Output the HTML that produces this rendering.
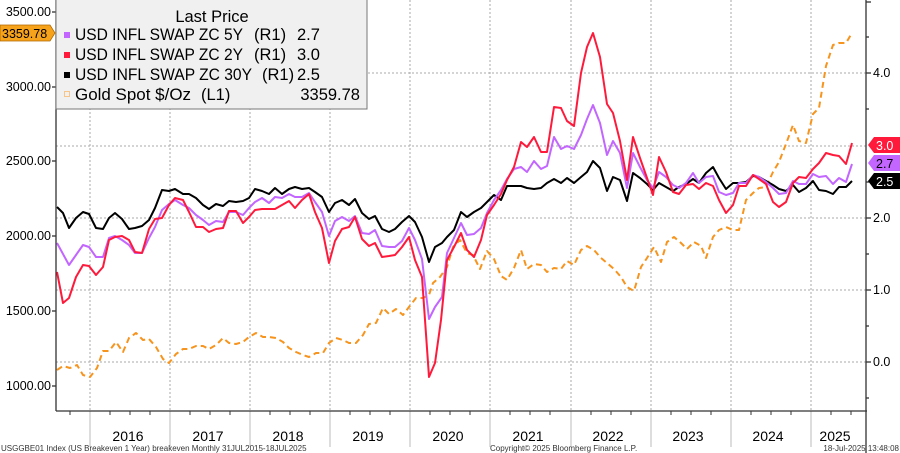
<!DOCTYPE html>
<html><head><meta charset="utf-8"><style>
body{margin:0;background:#fff;}
svg{display:block;font-family:"Liberation Sans",sans-serif;}
</style></head><body>
<svg width="900" height="453" viewBox="0 0 900 453" xmlns="http://www.w3.org/2000/svg">
<rect width="900" height="453" fill="#fff"/>
<g stroke="#aaa" stroke-dasharray="2,2" stroke-width="1">
<line x1="56" x2="866" y1="73" y2="73"/><line x1="56" x2="866" y1="146" y2="146"/><line x1="56" x2="866" y1="218" y2="218"/><line x1="56" x2="866" y1="290" y2="290"/><line x1="56" x2="866" y1="362" y2="362"/>
<line x1="90" x2="90" y1="0" y2="411"/><line x1="170" x2="170" y1="0" y2="411"/><line x1="250" x2="250" y1="0" y2="411"/><line x1="330" x2="330" y1="0" y2="411"/><line x1="410" x2="410" y1="0" y2="411"/><line x1="490" x2="490" y1="0" y2="411"/><line x1="571" x2="571" y1="0" y2="411"/><line x1="651" x2="651" y1="0" y2="411"/><line x1="731" x2="731" y1="0" y2="411"/><line x1="811" x2="811" y1="0" y2="411"/>
</g>
<g stroke="#bbb" stroke-width="1">
<line x1="90" x2="90" y1="411" y2="447"/><line x1="170" x2="170" y1="411" y2="447"/><line x1="250" x2="250" y1="411" y2="447"/><line x1="330" x2="330" y1="411" y2="447"/><line x1="410" x2="410" y1="411" y2="447"/><line x1="490" x2="490" y1="411" y2="447"/><line x1="571" x2="571" y1="411" y2="447"/><line x1="651" x2="651" y1="411" y2="447"/><line x1="731" x2="731" y1="411" y2="447"/><line x1="811" x2="811" y1="411" y2="447"/>
</g>
<g fill="none" stroke-width="2" stroke-linejoin="round">
<polyline stroke="#f7941d" stroke-dasharray="6,4" points="57,370 63,366 70,368 77,365 83,375 90,377 97,368 103,351 109,351 116,342 123,352 129,338 136,333 143,340 149,339 156,347 163,359 169,363 176,354 183,349 189,349 196,346 203,346 209,349 216,345 223,338 229,343 236,344 243,342 249,337 256,333 263,337 269,337 276,338 283,342 289,348 296,352 303,355 309,357 316,353 323,353 329,343 336,338 343,340 349,343 356,343 363,335 369,324 376,323 383,308 389,314 396,309 403,315 409,307 416,298 423,298 429,295 433,283 440,277 447,267 453,247 460,240 467,253 473,255 480,269 487,251 494,259 501,276 507,280 514,268 521,250 527,269 534,264 541,265 547,272 554,268 561,269 567,261 574,265 581,250 587,246 594,250 601,258 607,263 614,269 621,277 627,287 634,291 641,267 647,258 654,247 661,262 667,242 674,237 681,243 687,249 694,242 701,246 706,258 713,237 719,230 726,227 733,230 739,230 746,200 753,193 759,188 766,187 773,172 779,162 786,144 793,125 799,141 806,143 813,114 819,108 826,66 833,45 839,43 846,43 852,33"/>
<polyline stroke="#000" points="57,207 63,213 69,228 76,218 83,212 89,214 96,228 103,229 109,218 115,213 122,219 129,229 135,228 142,226 149,220 155,208 162,190 169,191 175,189 183,194 189,194 196,198 203,205 209,209 216,204 223,206 229,201 236,202 243,201 249,198 255,189 262,191 269,194 275,188 282,194 289,189 295,187 302,189 309,188 315,192 322,197 329,212 335,203 342,200 349,205 355,199 362,213 369,219 375,216 382,229 389,232 395,229 402,222 409,216 415,222 422,237 429,262 435,247 442,243 447,237 454,230 461,212 467,217 474,212 481,208 487,202 494,195 501,200 507,186 521,186 527,188 534,189 541,188 547,183 554,179 561,183 567,178 574,183 581,177 587,172 593,161 600,168 607,191 613,177 620,180 627,201 633,173 640,178 647,184 653,190 659,183 666,187 673,191 679,187 686,184 693,179 699,183 706,173 713,167 719,178 726,189 733,183 739,183 746,182 753,176 759,177 766,181 773,185 779,189 786,191 793,185 799,192 806,188 813,181 819,190 826,191 833,194 839,187 846,187 852,181"/>
<polyline stroke="#c266ff" points="57,243 63,254 69,265 76,255 83,245 89,247 96,257 103,257 109,238 115,236 122,240 129,245 135,253 142,253 149,238 155,227 162,210 169,204 175,200 183,205 189,208 196,215 203,220 209,225 216,221 223,222 229,212 236,212 243,215 249,208 255,202 262,198 269,203 275,197 282,198 289,194 295,197 302,197 309,193 315,202 322,212 329,236 335,221 342,217 349,221 355,216 362,233 369,234 375,230 382,246 389,247 395,247 402,241 409,228 415,240 422,259 429,319 435,307 442,297 447,253 454,238 461,223 467,235 474,234 481,228 487,213 494,200 501,190 507,179 514,169 521,167 527,172 534,161 541,169 547,166 554,137 561,149 567,146 574,149 581,135 587,119 593,105 600,123 607,155 613,141 620,153 627,188 633,153 640,167 647,180 653,188 659,172 666,177 673,185 679,188 686,183 693,173 699,183 706,177 713,176 719,192 726,195 733,193 739,183 746,183 753,175 759,177 766,182 773,188 779,194 786,193 793,181 799,184 806,184 813,174 819,177 826,176 833,184 839,178 846,182 852,164"/>
<polyline stroke="#ff1a3c" points="57,272 63,303 69,298 76,277 83,265 89,266 96,275 103,267 109,240 115,237 122,236 129,240 135,252 142,253 149,229 155,219 162,218 169,205 175,198 183,200 189,212 196,227 203,227 209,232 216,229 223,228 229,211 236,211 243,223 249,217 255,210 262,209 269,209 275,209 282,205 289,201 295,208 302,200 309,194 315,212 322,228 329,263 335,241 342,229 349,227 355,217 362,239 369,246 375,243 382,257 389,256 395,255 402,247 409,237 415,260 422,277 429,377 435,363 441,320 447,260 454,247 461,233 467,250 474,257 481,240 487,215 494,205 501,194 507,180 514,167 521,142 527,147 534,137 541,152 547,152 554,107 561,108 567,121 574,126 581,73 587,47 593,33 600,57 607,104 613,113 620,141 627,180 633,137 640,158 647,178 653,195 659,157 666,172 673,192 679,194 686,185 693,184 699,189 706,183 713,186 719,200 726,213 733,205 739,186 746,186 753,175 759,179 766,184 773,202 779,207 786,202 793,183 799,177 806,178 813,169 819,163 826,153 833,155 839,156 846,164 852,143"/>
</g>
<g stroke="#333" stroke-width="1.3">
<line x1="56" y1="0" x2="56" y2="411"/><line x1="56" y1="411" x2="867" y2="411"/><line x1="866" y1="0" x2="866" y2="453"/>
<line x1="52" x2="56" y1="12" y2="12"/><line x1="52" x2="56" y1="87" y2="87"/><line x1="52" x2="56" y1="161" y2="161"/><line x1="52" x2="56" y1="236" y2="236"/><line x1="52" x2="56" y1="311" y2="311"/><line x1="52" x2="56" y1="386" y2="386"/>
<line x1="866" x2="871" y1="73" y2="73"/><line x1="866" x2="871" y1="218" y2="218"/><line x1="866" x2="871" y1="290" y2="290"/><line x1="866" x2="871" y1="362" y2="362"/>
<line x1="866" x2="869" y1="37" y2="37"/><line x1="866" x2="869" y1="109" y2="109"/><line x1="866" x2="869" y1="182" y2="182"/><line x1="866" x2="869" y1="254" y2="254"/><line x1="866" x2="869" y1="326" y2="326"/><line x1="866" x2="869" y1="398" y2="398"/><line x1="866" x2="871" y1="2" y2="2"/>
</g>
<g stroke="#333" stroke-width="1">
<line x1="70" x2="70" y1="411" y2="415"/><line x1="110" x2="110" y1="411" y2="415"/><line x1="130" x2="130" y1="411" y2="415"/><line x1="150" x2="150" y1="411" y2="415"/><line x1="190" x2="190" y1="411" y2="415"/><line x1="210" x2="210" y1="411" y2="415"/><line x1="230" x2="230" y1="411" y2="415"/><line x1="270" x2="270" y1="411" y2="415"/><line x1="290" x2="290" y1="411" y2="415"/><line x1="310" x2="310" y1="411" y2="415"/><line x1="350" x2="350" y1="411" y2="415"/><line x1="370" x2="370" y1="411" y2="415"/><line x1="390" x2="390" y1="411" y2="415"/><line x1="430" x2="430" y1="411" y2="415"/><line x1="450" x2="450" y1="411" y2="415"/><line x1="470" x2="470" y1="411" y2="415"/><line x1="510" x2="510" y1="411" y2="415"/><line x1="530" x2="530" y1="411" y2="415"/><line x1="550" x2="550" y1="411" y2="415"/><line x1="591" x2="591" y1="411" y2="415"/><line x1="611" x2="611" y1="411" y2="415"/><line x1="631" x2="631" y1="411" y2="415"/><line x1="671" x2="671" y1="411" y2="415"/><line x1="691" x2="691" y1="411" y2="415"/><line x1="711" x2="711" y1="411" y2="415"/><line x1="751" x2="751" y1="411" y2="415"/><line x1="771" x2="771" y1="411" y2="415"/><line x1="791" x2="791" y1="411" y2="415"/><line x1="831" x2="831" y1="411" y2="415"/><line x1="851" x2="851" y1="411" y2="415"/>
</g>
<g font-size="12.5" fill="#000" text-anchor="end">
<text x="51" y="16">3500.00</text><text x="51" y="91">3000.00</text><text x="51" y="165">2500.00</text><text x="51" y="240">2000.00</text><text x="51" y="315">1500.00</text><text x="51" y="390">1000.00</text>
</g>
<g font-size="12.5" fill="#000">
<text x="873" y="77">4.0</text><text x="873" y="222">2.0</text><text x="873" y="294">1.0</text><text x="873" y="366">0.0</text>
</g>
<polygon points="0,25 50,25 55,33 50,41 0,41" fill="#f7a21b" stroke="#b06a00" stroke-width="0.8"/>
<text x="2" y="38" font-size="12.5" fill="#000">3359.78</text>
<polygon points="868,145 874,137 900,137 900,153 874,153" fill="#ff1a3c"/>
<text x="876" y="150" font-size="12.5" fill="#fff">3.0</text>
<polygon points="868,163 874,155 900,155 900,171 874,171" fill="#c266ff"/>
<text x="876" y="168" font-size="12.5" fill="#000">2.7</text>
<polygon points="868,181 874,173 900,173 900,189 874,189" fill="#000"/>
<text x="876" y="186" font-size="12.5" fill="#fff">2.5</text>
<rect x="56" y="-2" width="311" height="111" fill="#f0f0f0" stroke="#777" stroke-width="1"/>
<g font-size="16.5" fill="#000">
<text x="212" y="22" text-anchor="middle">Last Price</text>
<rect x="64" y="32" width="6" height="6" fill="#c266ff"/>
<text x="75" y="40" textLength="168" lengthAdjust="spacingAndGlyphs">USD INFL SWAP ZC 5Y</text><text x="254" y="40">(R1)</text><text x="297" y="40">2.7</text>
<rect x="64" y="52" width="6" height="6" fill="#ff1a3c"/>
<text x="75" y="60" textLength="168" lengthAdjust="spacingAndGlyphs">USD INFL SWAP ZC 2Y</text><text x="254" y="60">(R1)</text><text x="297" y="60">3.0</text>
<rect x="64" y="72" width="6" height="6" fill="#000"/>
<text x="75" y="80" textLength="177" lengthAdjust="spacingAndGlyphs">USD INFL SWAP ZC 30Y</text><text x="262" y="80">(R1)</text><text x="297" y="80">2.5</text>
<rect x="64.5" y="91.5" width="5" height="5" fill="none" stroke="#f7c58a"/>
<text x="75" y="100" textLength="116" lengthAdjust="spacingAndGlyphs">Gold Spot $/Oz</text><text x="201" y="100">(L1)</text>
<text x="360" y="100" text-anchor="end">3359.78</text>
</g>
<g font-size="14" fill="#000" text-anchor="middle">
<text x="128" y="441">2016</text><text x="208" y="441">2017</text><text x="288" y="441">2018</text><text x="368" y="441">2019</text><text x="448" y="441">2020</text><text x="528" y="441">2021</text><text x="608" y="441">2022</text><text x="688" y="441">2023</text><text x="768" y="441">2024</text><text x="835" y="441">2025</text>
</g>
<g font-size="8" fill="#333">
<text x="1" y="451">USGGBE01 Index (US Breakeven 1 Year) breakeven  Monthly 31JUL2015-18JUL2025</text>
<text x="490" y="451">Copyright© 2025 Bloomberg Finance L.P.</text>
<text x="899" y="451" text-anchor="end">18-Jul-2025 13:48:08</text>
</g>
</svg>
</body></html>
